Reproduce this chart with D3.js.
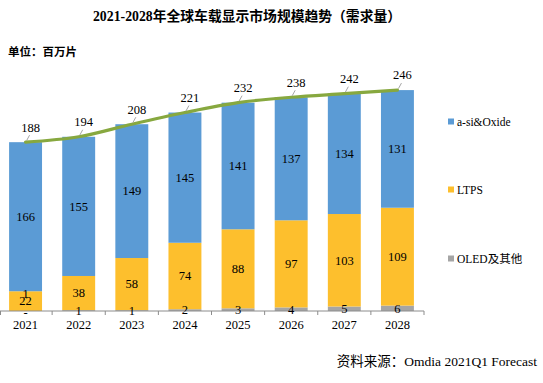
<!DOCTYPE html>
<html><head><meta charset="utf-8">
<script src="https://cdn.jsdelivr.net/npm/d3@7"></script>
<style>
html,body{margin:0;padding:0;background:#fff;}
svg{display:block;}
svg text{font-family:"Liberation Serif","Times New Roman","Noto Sans CJK SC",serif;fill:#000;}
</style></head>
<body>
<svg id="chart" width="543" height="383"></svg>
<script>
const years = ["2021","2022","2023","2024","2025","2026","2027","2028"];
const asiOxide = [166,155,149,145,141,137,134,131];
const ltps = [22,38,58,74,88,97,103,109];
const oled = [0,1,1,2,3,4,5,6];
const oledLabels = ["-","1","1","2","3","4","5","6"];
const totals = [188,194,208,221,232,238,242,246];
const seriesNames = ["a-si&Oxide","LTPS","OLED及其他"];
const colors = {"a-si&Oxide":"#5b9bd5","LTPS":"#fdbf2d","OLED及其他":"#a5a5a5"};
const strayLabel = {year:"2021", text:"1", value:22};
const title = "2021-2028年全球车载显示市场规模趋势（需求量）";
const unitText = "单位：百万片";
const sourceText = "资料来源：Omdia 2021Q1 Forecast";

const FONT = '"Liberation Serif","Noto Sans CJK SC",serif';
const svg = d3.select("#chart");
const x = d3.scaleBand().domain(years).range([-1,424]).paddingInner(0.38).paddingOuter(0.19);
const y = d3.scaleLinear().domain([0,250]).range([311,86.5]);

const rows = years.map((yr,i)=>({year:yr, "OLED及其他":oled[i], "LTPS":ltps[i], "a-si&Oxide":asiOxide[i]}));
const stack = d3.stack().keys(["OLED及其他","LTPS","a-si&Oxide"]);
const layers = stack(rows);

const g = svg.append("g");
layers.forEach(layer=>{
  g.append("g").selectAll("rect").data(layer).join("rect")
    .attr("x", d=>x(d.data.year))
    .attr("width", x.bandwidth())
    .attr("y", d=>y(d[1]))
    .attr("height", d=>y(d[0])-y(d[1]))
    .attr("fill", colors[layer.key]);
});

// axis
const axisY = y(0);
g.append("line").attr("x1",x.range()[0]).attr("x2",x.range()[1]).attr("y1",axisY).attr("y2",axisY)
  .attr("stroke","#8c8c8c").attr("stroke-width",1);
const bounds = years.map(yr=>x(yr)-x.step()*x.paddingInner()/2);
bounds.push(x.range()[1]);
bounds[0] = x.range()[0]+1.5;
g.selectAll(".tk").data(bounds).join("line")
  .attr("x1",d=>d).attr("x2",d=>d).attr("y1",axisY).attr("y2",axisY+4)
  .attr("stroke","#8c8c8c");
const ax = d3.axisBottom(x).tickSize(0).tickPadding(9);
const axg = g.append("g").attr("transform",`translate(0,${axisY})`).call(ax);
axg.select(".domain").remove();
axg.selectAll("text").attr("font-size","12.5px").attr("font-family",FONT).style("font-family",FONT).attr("fill","#000");

// segment labels
const cx = yr => x(yr)+x.bandwidth()/2;
layers.forEach(layer=>{
  g.append("g").selectAll("text").data(layer).join("text")
    .attr("x", d=>cx(d.data.year))
    .attr("y", d=>{
      if(layer.key==="OLED及其他") return y(0) - (y(0)-y(d[1]))/2 + (d.data["OLED及其他"]===0?1.5:0);
      return (y(d[0])+y(d[1]))/2;
    })
    .attr("dy","0.35em")
    .attr("text-anchor","middle")
    .attr("font-size","12.5px")
    .style("font-family",FONT)
    .text((d,i)=> layer.key==="OLED及其他" ? oledLabels[i] : d.data[layer.key]);
});
// stray label
g.append("text").attr("x",cx(strayLabel.year)).attr("y",y(strayLabel.value)+2).attr("dy","0.35em")
  .attr("text-anchor","middle").attr("font-size","12.5px").style("font-family",FONT).text(strayLabel.text);

// totals line
const line = d3.line().x((d,i)=>cx(years[i])).y(d=>y(d)).curve(d3.curveMonotoneX);
g.append("path").datum(totals).attr("d",line).attr("fill","none")
  .attr("stroke","#87a83f").attr("stroke-width",3.2).attr("stroke-linecap","round");

// total labels with leader lines
totals.forEach((t,i)=>{
  const px = cx(years[i]), py = y(t);
  g.append("line").attr("x1",px+1).attr("y1",py-1.5).attr("x2",px+4).attr("y2",py-7)
    .attr("stroke","#a6a6a6").attr("stroke-width",1);
  g.append("text").attr("x",px+5).attr("y",py-15).attr("dy","0.35em").attr("text-anchor","middle")
    .attr("font-size","12.5px").style("font-family",FONT).text(t);
});

// legend
const legY = [122,190,259];
seriesNames.forEach((s,i)=>{
  svg.append("rect").attr("x",448).attr("y",legY[i]-3.5).attr("width",6).attr("height",6).attr("fill",colors[s]);
  svg.append("text").attr("x",457).attr("y",legY[i]).attr("dy","0.35em").attr("font-size","11.5px")
    .style("font-family",FONT).text(s);
});

// titles
svg.append("text").attr("x",247).attr("y",16).attr("dy","0.35em").attr("text-anchor","middle")
  .attr("font-size","13.8px").attr("font-weight","bold").style("font-family",FONT).text(title);
svg.append("text").attr("x",8).attr("y",52).attr("dy","0.35em")
  .attr("font-size","11.5px").attr("font-weight","bold").style("font-family",FONT).text(unitText);
svg.append("text").attr("x",537).attr("y",361).attr("dy","0.35em").attr("text-anchor","end")
  .attr("font-size","13.5px").style("font-family",FONT).text(sourceText);
</script>
</body></html>
